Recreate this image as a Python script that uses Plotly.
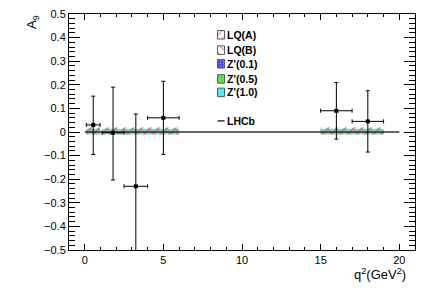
import plotly.graph_objects as go

# ---------------- data ----------------
bin_lo = [0.1, 1.1, 2.5, 4.0, 15.0, 17.0]
bin_hi = [0.98, 2.5, 4.0, 6.0, 17.0, 19.0]
q2_center = [0.54, 1.8, 3.25, 5.0, 16.0, 18.0]
A9_lhcb = [0.03, -0.003, -0.23, 0.06, 0.09, 0.045]
A9_err_up = [0.122, 0.193, 0.306, 0.155, 0.12, 0.13]
A9_err_dn = [0.125, 0.20, 0.30, 0.155, 0.12, 0.13]

models = ["LQ(A)", "LQ(B)", "Z'(0.1)", "Z'(0.5)", "Z'(1.0)"]
model_center = {
    "LQ(A)": [0.004, 0.004, 0.004, 0.004, 0.004, 0.004],
    "LQ(B)": [0.002, 0.002, 0.002, 0.002, 0.002, 0.002],
    "Z'(0.1)": [0.002, 0.002, 0.002, 0.002, 0.002, 0.002],
    "Z'(0.5)": [0.0, 0.0, 0.0, 0.0, 0.0, 0.0],
    "Z'(1.0)": [0.002, 0.002, 0.002, 0.002, 0.002, 0.002],
}
model_halfwidth = {
    "LQ(A)": [0.016, 0.016, 0.016, 0.016, 0.016, 0.016],
    "LQ(B)": [0.014, 0.014, 0.014, 0.014, 0.014, 0.014],
    "Z'(0.1)": [0.008, 0.008, 0.008, 0.008, 0.008, 0.008],
    "Z'(0.5)": [0.004, 0.004, 0.004, 0.004, 0.004, 0.004],
    "Z'(1.0)": [0.012, 0.012, 0.012, 0.012, 0.012, 0.012],
}
sm_q2 = [0.0, 20.0]
sm_A9 = [0.0, 0.0]

y_tick_vals = [-0.5, -0.4, -0.3, -0.2, -0.1, 0.0, 0.1, 0.2, 0.3, 0.4, 0.5]
y_tick_text = ["\u22120.5", "\u22120.4", "\u22120.3", "\u22120.2", "\u22120.1", "0",
               "0.1", "0.2", "0.3", "0.4", "0.5"]
x_tick_vals = [0, 5, 10, 15, 20]
x_tick_text = ["0", "5", "10", "15", "20"]

# ---------------- styles ----------------
style = {
    "LQ(A)": dict(fillcolor="rgba(0,0,0,0)", pattern=dict(shape="/", fgcolor="#ff2020", bgcolor="rgba(0,0,0,0)", size=6, solidity=0.3)),
    "LQ(B)": dict(fillcolor="rgba(0,0,0,0)", pattern=dict(shape="\\", fgcolor="#ff5050", bgcolor="rgba(0,0,0,0)", size=6, solidity=0.3)),
    "Z'(0.1)": dict(fillcolor="#3a40ff", pattern=dict(shape=".", fgcolor="#c0c8ff", bgcolor="#3a40ff", size=3, solidity=0.3)),
    "Z'(0.5)": dict(fillcolor="#3ee03e", pattern=dict(shape=".", fgcolor="#a0ffa0", bgcolor="#3ee03e", size=3, solidity=0.3)),
    "Z'(1.0)": dict(fillcolor="#48f2f2", pattern=None),
}
draw_order = ["Z'(0.1)", "Z'(1.0)", "Z'(0.5)", "LQ(B)", "LQ(A)"]

fig = go.Figure()

for m in draw_order:
    xs, ys = [], []
    for lo, hi, c, h in zip(bin_lo, bin_hi, model_center[m], model_halfwidth[m]):
        xs += [lo, hi, hi, lo, lo, None]
        ys += [c - h, c - h, c + h, c + h, c - h, None]
    st = style[m]
    kw = dict(x=xs, y=ys, mode="lines", fill="toself", fillcolor=st["fillcolor"],
              line=dict(width=0), showlegend=False, hoverinfo="skip")
    if st["pattern"]:
        kw["fillpattern"] = st["pattern"]
    fig.add_trace(go.Scatter(**kw))

# SM / zero line
fig.add_trace(go.Scatter(x=sm_q2, y=sm_A9, mode="lines", line=dict(color="#333333", width=1.5),
                         showlegend=False, hoverinfo="skip"))

# LHCb data
fig.add_trace(go.Scatter(
    x=q2_center, y=A9_lhcb, mode="markers",
    marker=dict(symbol="square", size=4, color="black"),
    error_y=dict(type="data", symmetric=False, array=A9_err_up, arrayminus=A9_err_dn,
                 color="black", thickness=1, width=2),
    error_x=dict(type="data", symmetric=False,
                 array=[h - c for h, c in zip(bin_hi, q2_center)],
                 arrayminus=[c - l for l, c in zip(bin_lo, q2_center)],
                 color="black", thickness=1, width=2),
    showlegend=False, cliponaxis=True,
))

# ---------------- manual legend (overlay axes in [0,1]) ----------------
leg_x0, leg_x1 = 0.4294, 0.4496
leg_y = [0.912, 0.847, 0.789, 0.725, 0.668]
box_h = 0.018
legend_pattern = {
    "LQ(A)": dict(shape="/", fgcolor="#ff2020", bgcolor="white", size=6, solidity=0.2),
    "LQ(B)": dict(shape="\\", fgcolor="#ff2020", bgcolor="white", size=6, solidity=0.2),
    "Z'(0.1)": dict(shape=".", fgcolor="#c8d0ff", bgcolor="#3a40ff", size=3, solidity=0.3),
    "Z'(0.5)": dict(shape=".", fgcolor="#b0ffb0", bgcolor="#3ee03e", size=3, solidity=0.3),
    "Z'(1.0)": None,
}
for m, yc in zip(models, leg_y):
    st = style[m]
    kw = dict(x=[leg_x0, leg_x1, leg_x1, leg_x0, leg_x0],
              y=[yc - box_h, yc - box_h, yc + box_h, yc + box_h, yc - box_h],
              mode="lines", fill="toself",
              fillcolor="white" if m in ("LQ(A)", "LQ(B)") else st["fillcolor"],
              line=dict(width=1, color="#555555"), xaxis="x2", yaxis="y2",
              showlegend=False, hoverinfo="skip")
    if legend_pattern[m]:
        kw["fillpattern"] = legend_pattern[m]
    fig.add_trace(go.Scatter(**kw))
    fig.add_annotation(x=leg_x1 + 0.002, y=yc, xref="x2", yref="y2", text="<b>%s</b>" % m,
                       showarrow=False, xanchor="left", yanchor="middle",
                       font=dict(family="Liberation Sans", size=10.5, color="black"))

lhcb_y = 0.547
fig.add_trace(go.Scatter(x=[leg_x0, leg_x1], y=[lhcb_y, lhcb_y], mode="lines",
                         line=dict(color="black", width=1.2), xaxis="x2", yaxis="y2",
                         showlegend=False, hoverinfo="skip"))
fig.add_annotation(x=leg_x1 + 0.002, y=lhcb_y, xref="x2", yref="y2", text="<b>LHCb</b>",
                   showarrow=False, xanchor="left", yanchor="middle",
                   font=dict(family="Liberation Sans", size=10.5, color="black"))

# axis titles
fig.add_annotation(x=-0.105, y=0.965, xref="paper", yref="paper", text="A<sub>9</sub>",
                   textangle=-90, showarrow=False, xanchor="center", yanchor="middle",
                   font=dict(family="Liberation Sans", size=13, color="black"))
fig.add_annotation(x=0.98, y=-0.10, xref="paper", yref="paper", text="q<sup>2</sup>(GeV<sup>2</sup>)",
                   showarrow=False, xanchor="right", yanchor="middle",
                   font=dict(family="Liberation Sans", size=13, color="black"))

axis_font = dict(family="Liberation Sans", size=11, color="black")
fig.update_layout(
    width=433, height=289,
    margin=dict(l=68.5, r=17.5, t=14, b=39, pad=0),
    paper_bgcolor="white", plot_bgcolor="white",
    font=axis_font,
    xaxis=dict(range=[-1, 21], showgrid=False, zeroline=False, automargin=False,
               showline=True, linecolor="black", linewidth=1, mirror="allticks",
               ticks="inside", ticklen=6, tickcolor="black",
               tickmode="array", tickvals=x_tick_vals, ticktext=x_tick_text,
               tickfont=axis_font,
               minor=dict(ticks="inside", ticklen=3, dtick=1, tick0=0, tickcolor="black", showgrid=False)),
    yaxis=dict(range=[-0.5, 0.5], showgrid=False, zeroline=False, automargin=False,
               showline=True, linecolor="black", linewidth=1, mirror="allticks",
               ticks="inside", ticklen=11, tickcolor="black",
               tickmode="array", tickvals=y_tick_vals, ticktext=y_tick_text,
               tickfont=axis_font,
               minor=dict(ticks="inside", ticklen=6, dtick=0.02, tick0=0, tickcolor="black", showgrid=False)),
    xaxis2=dict(range=[0, 1], overlaying="x", visible=False, fixedrange=True),
    yaxis2=dict(range=[0, 1], overlaying="y", visible=False, fixedrange=True),
)

fig.write_html("out.html", config={"displayModeBar": False},
               post_script="document.body.style.margin='0';")
